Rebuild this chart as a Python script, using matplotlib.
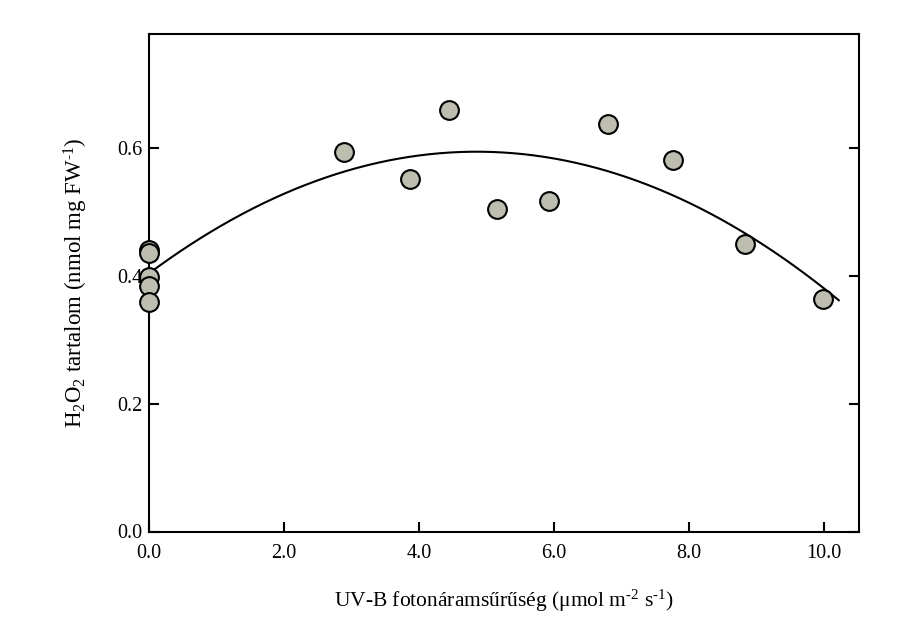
import numpy as np
import matplotlib
matplotlib.use("Agg")
import matplotlib.pyplot as plt

plt.rcParams['font.family'] = ['Liberation Serif', 'DejaVu Serif']
plt.rcParams['mathtext.fontset'] = 'custom'
plt.rcParams['mathtext.rm'] = 'Liberation Serif'
plt.rcParams['mathtext.it'] = 'Liberation Serif:italic'

# UV-B photon flux density and H2O2 content
uvb = [0.0, 0.0, 0.0, 0.0, 0.0, 2.89, 3.86, 4.45, 5.15, 5.93, 6.80, 7.76, 8.83, 9.99]
h2o2 = [0.440, 0.436, 0.398, 0.384, 0.359, 0.593, 0.552, 0.659, 0.505, 0.517,
        0.637, 0.581, 0.449, 0.364]

xticks = [0, 2, 4, 6, 8, 10]
yticks = [0.0, 0.2, 0.4, 0.6]

# second-order polynomial fit
coef = np.polyfit(uvb, h2o2, 2)
xfit = np.linspace(0, 10.22, 200)
yfit = np.polyval(coef, xfit)

fig = plt.figure(figsize=(9.24, 6.2), dpi=100)
ax = fig.add_axes([149/924, 1 - 531.5/620, 710/924, 497.5/620])

ax.plot(xfit, yfit, color='black', lw=1.5, zorder=2)
ax.plot(uvb, h2o2, 'o', ms=13.5, mfc='#bebeb0', mec='black', mew=1.5,
        clip_on=False, zorder=3)

ax.set_xlim(0, 10.52)
ax.set_ylim(0, 0.778)
ax.set_xticks(xticks)
ax.set_xticklabels(['%.1f' % v for v in xticks])
ax.set_yticks(yticks)
ax.set_yticklabels(['%.1f' % v for v in yticks])
ax.tick_params(direction='in', length=7, width=1.5, labelsize=14.5,
               right=True, top=False)
ax.tick_params(axis='x', pad=9)
ax.tick_params(axis='y', pad=5)
for s in ax.spines.values():
    s.set_linewidth(1.5)

ax.set_xlabel(r'UV-B fotonáramsűrűség ($\mathregular{\mu}$mol m$^{\text{-2}}$ s$^{\text{-1}}$)',
              fontsize=15.5, labelpad=18)
ax.set_ylabel(r'H$_{\mathregular{2}}$O$_{\mathregular{2}}$ tartalom (nmol mg FW$^{\text{-1}}$)',
              fontsize=16.5, labelpad=19)

fig.savefig('out.png', dpi=100)
